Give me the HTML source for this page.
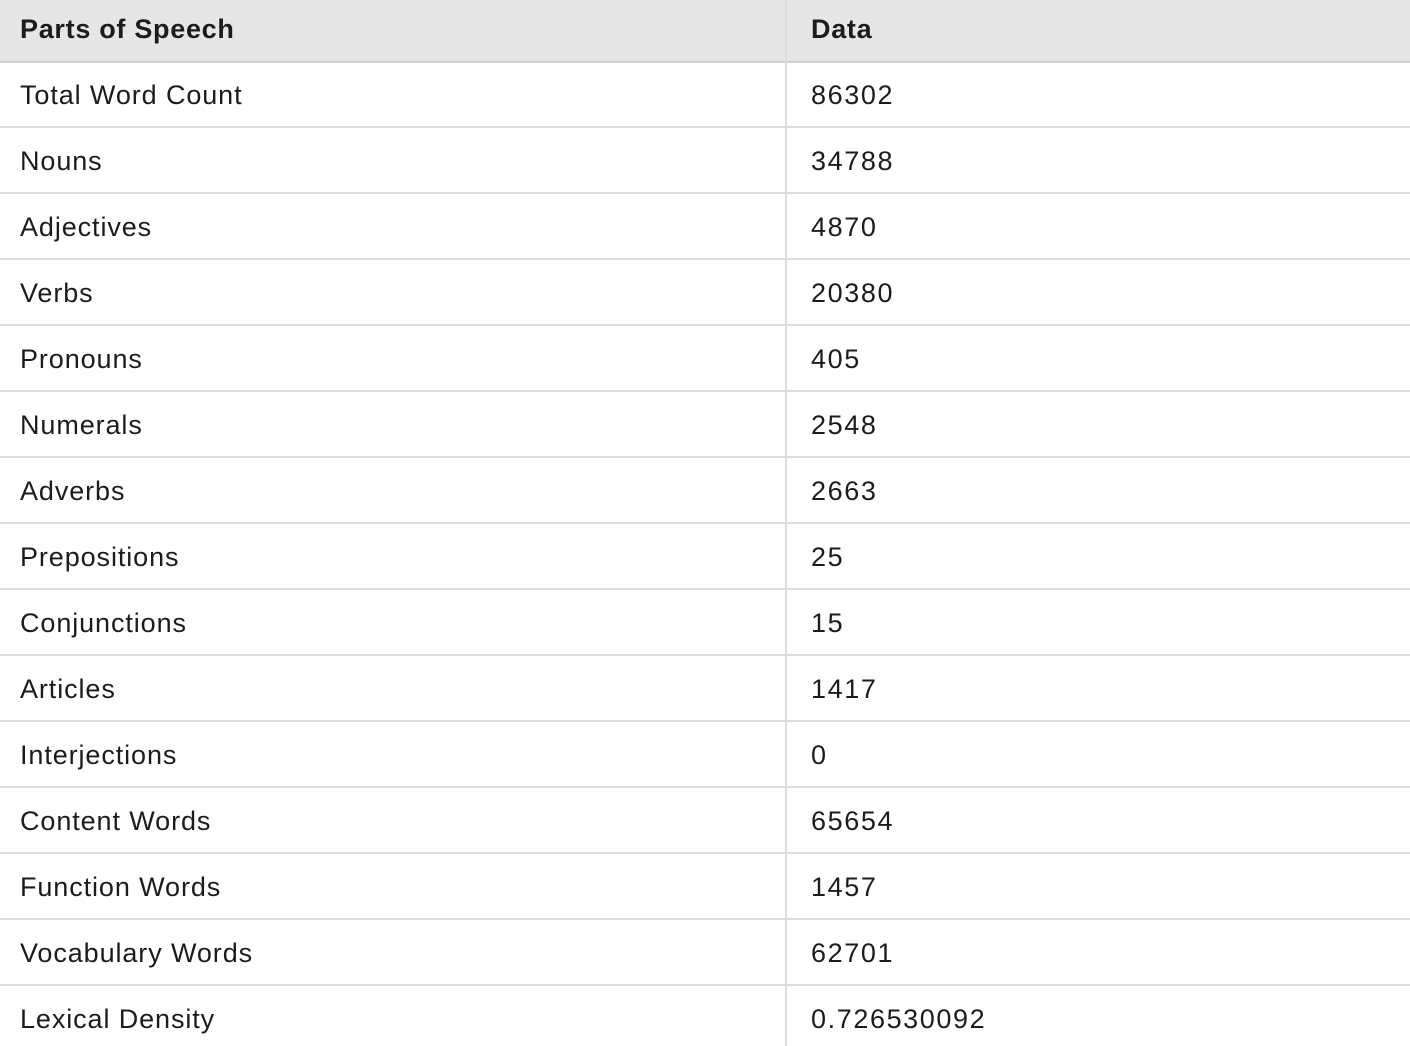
<!DOCTYPE html>
<html><head><meta charset="utf-8"><style>
body{margin:0;width:1410px;height:1046px;overflow:hidden;background:#fff;font-family:"Liberation Sans",sans-serif;color:#1c1c1e}
.hdr{position:absolute;left:0;top:0;width:1410px;height:61px;background:#e6e6e6;border-bottom:2px solid #cfcfcf}
.cell{position:absolute;font-size:27px;line-height:30px;white-space:nowrap;letter-spacing:0.9px}
.v{letter-spacing:1.6px}
.h{font-weight:bold;letter-spacing:0.7px}
.line{position:absolute;left:0;width:1410px;height:2px;background:#dcdcdc}
.vline{position:absolute;left:785px;top:0;width:2px;height:1046px;background:#dcdcdc}
</style></head><body>
<div class="hdr"></div>
<div class="vline"></div>
<div class="cell h" style="left:20px;top:14px">Parts of Speech</div>
<div class="cell h" style="left:811px;top:14px">Data</div>
<div id="rows"></div>
<script>
const labels=["Total Word Count","Nouns","Adjectives","Verbs","Pronouns","Numerals","Adverbs","Prepositions","Conjunctions","Articles","Interjections","Content Words","Function Words","Vocabulary Words","Lexical Density"];
const values=["86302","34788","4870","20380","405","2548","2663","25","15","1417","0","65654","1457","62701","0.726530092"];
const host=document.getElementById('rows');
labels.forEach((l,i)=>{
  const top=62+i*66;
  const a=document.createElement('div');a.className='cell';a.style.left='20px';a.style.top=(top+18)+'px';a.textContent=l;
  
  
  host.appendChild(a);
  const b=document.createElement('div');b.className='cell v';b.style.left='811px';b.style.top=(top+18)+'px';b.textContent=values[i];
  
  
  host.appendChild(b);
  if(i<labels.length-1){
    const ln=document.createElement('div');ln.className='line';ln.style.top=(top+64)+'px';
    
    
    host.appendChild(ln);
  }
});
</script>
</body></html>
